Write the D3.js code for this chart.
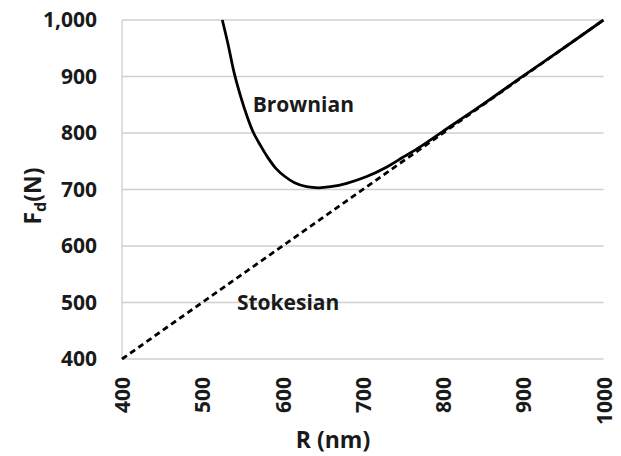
<!DOCTYPE html>
<html>
<head>
<meta charset="utf-8">
<script src="https://cdn.jsdelivr.net/npm/d3@7"></script>
<style>
  html, body { margin: 0; padding: 0; background: #fff; }
  svg { display: block; }
  text { font-family: "Open Sans", "Liberation Sans", sans-serif; font-weight: bold; fill: #1a1a1a; }
</style>
</head>
<body>
<svg id="chart" width="621" height="456"></svg>
<script>
// ---- data ----
const xTicks = [400, 500, 600, 700, 800, 900, 1000];
const yTicks = [400, 500, 600, 700, 800, 900, 1000];
const brownianR = [525, 532, 540, 548, 556, 564, 573, 582, 592, 603, 615, 630, 645, 660, 680, 705, 730, 750, 772, 800, 850, 900, 950, 1000];
const brownianF = [1000, 958, 905, 864, 829, 800, 777, 756, 737, 723, 712, 705, 703, 705, 711, 723, 740, 757, 776, 803, 851, 901, 950, 1000];
const stokesR = [400, 1000];
const stokesF = [400, 1000];
const labels = [
  { text: "Brownian", r: 626, f: 850 },
  { text: "Stokesian", r: 607, f: 500 }
];

// ---- layout ----
const svg = d3.select("#chart");
const m = { left: 122, top: 20, right: 603.5, bottom: 359 };
const x = d3.scaleLinear().domain([400, 1000]).range([m.left, m.right]);
const y = d3.scaleLinear().domain([400, 1000]).range([m.bottom, m.top]);

// gridlines
svg.append("g")
  .selectAll("line")
  .data(yTicks)
  .join("line")
  .attr("x1", m.left).attr("x2", m.right)
  .attr("y1", d => y(d)).attr("y2", d => y(d))
  .attr("stroke", "#cfcfcf").attr("stroke-width", 1.3);

// left axis line
svg.append("line")
  .attr("x1", m.left).attr("x2", m.left)
  .attr("y1", m.top).attr("y2", m.bottom)
  .attr("stroke", "#cfcfcf").attr("stroke-width", 1.3);

// y axis tick labels
const yAxis = d3.axisLeft(y).tickValues(yTicks).tickSize(0).tickPadding(25)
  .tickFormat(d3.format(","));
const gy = svg.append("g").attr("transform", `translate(${m.left},0)`).call(yAxis);
gy.select(".domain").remove();
gy.selectAll("text").attr("font-size", 21).attr("fill", "#1a1a1a")
  .style("font-family", "'Open Sans', sans-serif").style("font-weight", "bold");

// x axis tick labels (rotated)
const xAxis = d3.axisBottom(x).tickValues(xTicks).tickSize(0).tickFormat(d3.format("d"));
const gx = svg.append("g").attr("transform", `translate(0,${m.bottom})`).call(xAxis);
gx.select(".domain").remove();
gx.selectAll("text")
  .attr("font-size", 21).attr("fill", "#1a1a1a")
  .style("font-family", "'Open Sans', sans-serif").style("font-weight", "bold")
  .attr("transform", "rotate(-90)")
  .attr("text-anchor", "end")
  .attr("x", -18).attr("y", 0).attr("dy", "0.36em");

// lines
svg.append("path")
  .datum(stokesR.map((r, i) => [r, stokesF[i]]))
  .attr("d", d3.line().x(d => x(d[0])).y(d => y(d[1])))
  .attr("fill", "none").attr("stroke", "#000").attr("stroke-width", 2.8)
  .attr("stroke-dasharray", "6,4");

svg.append("path")
  .datum(brownianR.map((r, i) => [r, brownianF[i]]))
  .attr("d", d3.line().x(d => x(d[0])).y(d => y(d[1])).curve(d3.curveCatmullRom.alpha(0.5)))
  .attr("fill", "none").attr("stroke", "#000").attr("stroke-width", 2.8);

// labels
svg.append("g").selectAll("text").data(labels).join("text")
  .attr("x", d => x(d.r)).attr("y", d => y(d.f))
  .attr("dy", "0.35em")
  .attr("font-size", 21)
  .attr("text-anchor", "middle")
  .attr("fill", "#1a1a1a")
  .text(d => d.text);

// axis titles
svg.append("text")
  .attr("x", 333).attr("y", 448)
  .attr("text-anchor", "middle").attr("font-size", 23)
  .text("R (nm)");

const yt = svg.append("text")
  .attr("transform", "translate(41,196) rotate(-90)")
  .attr("text-anchor", "middle").attr("font-size", 23);
yt.append("tspan").text("F");
yt.append("tspan").attr("font-size", 16).attr("dy", 5).text("d");
yt.append("tspan").attr("dy", -5).text("(N)");
</script>
</body>
</html>
